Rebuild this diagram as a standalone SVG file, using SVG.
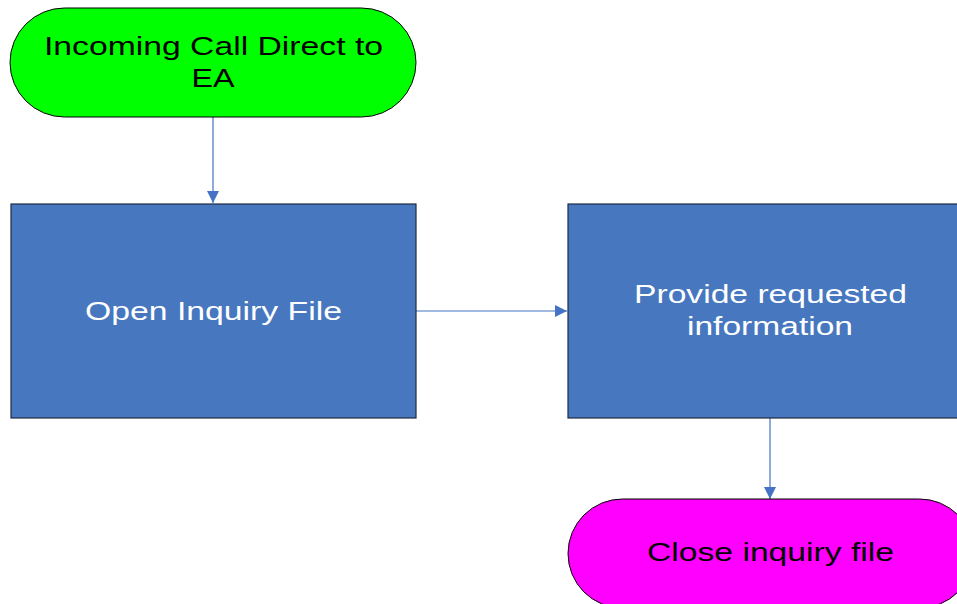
<svg xmlns="http://www.w3.org/2000/svg" width="957" height="604" viewBox="0 0 957 604">
<defs>
<style>
.term{stroke:#000;stroke-width:1}
.proc{fill:#4677BF;stroke:#1E2A44;stroke-width:1.2}
.lbl{font-family:"Liberation Sans",Arial,sans-serif;font-size:25.5px;text-anchor:middle}
.dark{fill:#000}
.light{fill:#fff}
.conn{stroke:#4472C4;stroke-width:1.2;fill:none}
</style>
<marker id="ah" viewBox="0 0 10 10" refX="10" refY="5" markerWidth="14" markerHeight="12" markerUnits="userSpaceOnUse" orient="auto">
<path d="M0,0 L10,5 L0,10 Z" fill="#4472C4"/>
</marker>
</defs>
<rect width="957" height="604" fill="#fff"/>
<g id="connectors">
<line class="conn" x1="213" y1="117" x2="213" y2="203" marker-end="url(#ah)"/>
<line class="conn" x1="416" y1="311" x2="567" y2="311" marker-end="url(#ah)"/>
<line class="conn" x1="770" y1="418" x2="770" y2="499" marker-end="url(#ah)"/>
</g>
<g id="start">
<rect class="term" x="10" y="8" width="406" height="109" rx="54.5" ry="54.5" fill="#00FF00"/>
<text class="lbl dark" x="213.5" y="55" textLength="339" lengthAdjust="spacingAndGlyphs">Incoming Call Direct to</text>
<text class="lbl dark" x="213" y="87" textLength="43" lengthAdjust="spacingAndGlyphs">EA</text>
</g>
<g id="open">
<rect class="proc" x="11" y="204" width="405" height="214"/>
<text class="lbl light" x="213.5" y="319.5" textLength="257" lengthAdjust="spacingAndGlyphs">Open Inquiry File</text>
</g>
<g id="provide">
<rect class="proc" x="568" y="204" width="405" height="214"/>
<text class="lbl light" x="770.5" y="302.5" textLength="273" lengthAdjust="spacingAndGlyphs">Provide requested</text>
<text class="lbl light" x="770" y="334.5" textLength="166" lengthAdjust="spacingAndGlyphs">information</text>
</g>
<g id="close">
<rect class="term" x="568" y="499" width="406" height="109" rx="54.5" ry="54.5" fill="#FF00FF"/>
<text class="lbl dark" x="770.5" y="561" textLength="247" lengthAdjust="spacingAndGlyphs">Close inquiry file</text>
</g>
</svg>
